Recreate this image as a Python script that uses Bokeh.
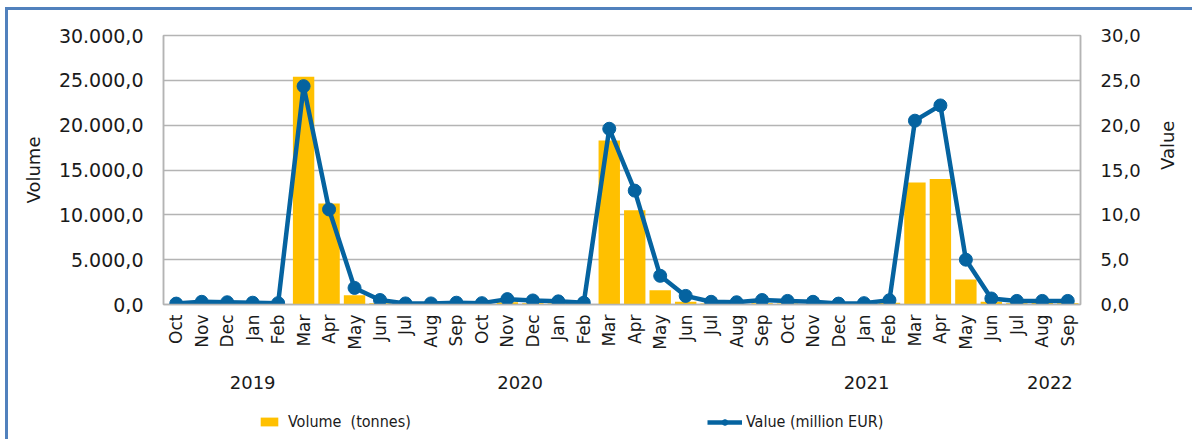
import math
from bokeh.plotting import figure
from bokeh.layouts import column
from bokeh.models import (Range1d, LinearAxis, FixedTicker, CustomJSTickFormatter,
                          Legend, LegendItem, ColumnDataSource)
from bokeh.embed import file_html
from bokeh.resources import INLINE

months = ["Oct", "Nov", "Dec", "Jan", "Feb", "Mar", "Apr", "May", "Jun", "Jul", "Aug", "Sep",
          "Oct", "Nov", "Dec", "Jan", "Feb", "Mar", "Apr", "May", "Jun", "Jul", "Aug", "Sep",
          "Oct", "Nov", "Dec", "Jan", "Feb", "Mar", "Apr", "May", "Jun", "Jul", "Aug", "Sep"]
volume_tonnes = [20, 30, 30, 20, 60, 25400, 11270, 1040, 150, 40, 40, 60,
                 60, 250, 150, 100, 60, 18300, 10500, 1600, 300, 100, 60, 150,
                 100, 60, 40, 60, 200, 13600, 14000, 2800, 300, 150, 200, 150]
value_meur = [0.1, 0.3, 0.25, 0.2, 0.15, 24.35, 10.6, 1.85, 0.5, 0.12, 0.12, 0.2,
              0.15, 0.6, 0.45, 0.35, 0.2, 19.6, 12.7, 3.2, 0.96, 0.3, 0.25, 0.5,
              0.4, 0.3, 0.1, 0.15, 0.48, 20.5, 22.2, 5.0, 0.67, 0.4, 0.4, 0.4]
years = ["2019", "2020", "2021", "2022"]
year_pos = [3.0, 13.5, 27.1, 34.3]

FONT = "'DejaVu Sans'"
COND = "'Liberation Sans Narrow', 'DejaVu Sans Condensed', 'DejaVu Sans'"
GRID = "#b4b4b4"
YELLOW = "#FFC000"
BLUE = "#0563A0"
TXT = "#1a1a1a"
W = 1184

x = list(range(len(months)))
src = ColumnDataSource(dict(x=x, vol=volume_tonnes, val=value_meur))

p = figure(width=W, height=395, output_backend="svg", toolbar_location=None,
           x_range=Range1d(-0.5, len(months) - 0.5), y_range=Range1d(0, 30000),
           min_border_left=155, min_border_right=112, min_border_top=25, min_border_bottom=101)
p.extra_y_ranges = {"val": Range1d(0, 30)}

p.outline_line_color = GRID
p.outline_line_width = 1.5
p.background_fill_color = "white"
p.border_fill_color = "white"
p.xgrid.grid_line_color = None
p.ygrid.grid_line_color = GRID
p.ygrid.grid_line_width = 1.5
p.ygrid.ticker = FixedTicker(ticks=[0, 5000, 10000, 15000, 20000, 25000, 30000])

bars = p.vbar(x="x", top="vol", width=0.84, source=src, color=YELLOW, line_color=None)
line = p.line(x="x", y="val", source=src, y_range_name="val", line_color=BLUE, line_width=4.5)
dots = p.scatter(x="x", y="val", source=src, y_range_name="val", size=13,
                 fill_color=BLUE, line_color=BLUE)

# left axis
ya = p.yaxis[0]
ya.ticker = FixedTicker(ticks=[0, 5000, 10000, 15000, 20000, 25000, 30000])
ya.formatter = CustomJSTickFormatter(code="""
return tick.toFixed(1).replace('.', ',').replace(/\\B(?=(\\d{3})+(?!\\d))/g, '.');
""")
ya.axis_label = "Volume"
ya.axis_label_text_font = FONT
ya.axis_label_text_font_style = "normal"
ya.axis_label_text_font_size = "18px"
ya.axis_label_text_color = TXT
ya.axis_label_standoff = 12
ya.major_label_text_font = FONT
ya.major_label_text_font_size = "19px"
ya.major_label_text_color = TXT
ya.axis_line_color = GRID
ya.axis_line_width = 1.5
ya.major_tick_line_color = None
ya.minor_tick_line_color = None
ya.major_tick_out = 0
ya.major_tick_in = 0
ya.major_label_standoff = 20

# right axis
ra = LinearAxis(y_range_name="val", ticker=FixedTicker(ticks=[0, 5, 10, 15, 20, 25, 30]))
ra.formatter = CustomJSTickFormatter(code="return tick.toFixed(1).replace('.', ',');")
ra.axis_label = "Value"
ra.axis_label_orientation = math.pi / 2
ra.axis_label_text_font = FONT
ra.axis_label_text_font_style = "normal"
ra.axis_label_text_font_size = "18px"
ra.axis_label_text_color = TXT
ra.axis_label_standoff = 24
ra.major_label_text_font = FONT
ra.major_label_text_font_size = "18px"
ra.major_label_text_color = TXT
ra.axis_line_color = GRID
ra.axis_line_width = 1.5
ra.major_tick_line_color = None
ra.minor_tick_line_color = None
ra.major_tick_out = 0
ra.major_tick_in = 0
ra.major_label_standoff = 20
p.add_layout(ra, "right")

# bottom axis (months)
xa = p.xaxis[0]
xa.ticker = FixedTicker(ticks=x)
xa.major_label_overrides = {i: m for i, m in enumerate(months)}
xa.major_label_orientation = math.pi / 2
xa.major_label_text_font = FONT
xa.major_label_text_font_size = "17px"
xa.major_label_text_color = TXT
xa.axis_line_color = GRID
xa.axis_line_width = 1.5
xa.major_tick_line_color = None
xa.minor_tick_line_color = None
xa.major_label_standoff = 4

# second bottom axis (years)
yax = LinearAxis(ticker=FixedTicker(ticks=year_pos),
                 major_label_overrides={pos: yr for pos, yr in zip(year_pos, years)})
yax.axis_line_color = None
yax.major_tick_line_color = None
yax.minor_tick_line_color = None
yax.major_label_text_font = FONT
yax.major_label_text_font_size = "18px"
yax.major_label_text_color = TXT
yax.major_label_standoff = 17
p.add_layout(yax, "below")

# legend strip (frame aligned with the chart frame by the column layout)
lg = figure(width=W, height=34, output_backend="svg", toolbar_location=None,
            x_range=Range1d(0, 1), y_range=Range1d(0, 1),
            min_border_left=0, min_border_right=0, min_border_top=0, min_border_bottom=0)
lg.axis.visible = False
lg.grid.grid_line_color = None
lg.outline_line_color = None
lg.border_fill_color = "white"
hidden = ColumnDataSource(dict(x=[-10], y=[-10]))
lb = lg.vbar(x="x", top="y", width=1, source=hidden, color=YELLOW, line_color=None)
ll = lg.line(x="x", y="y", source=hidden, line_color=BLUE, line_width=4.5)
ls = lg.scatter(x="x", y="y", source=hidden, size=11, fill_color=BLUE, line_color=BLUE)

common = dict(label_text_font=COND, label_text_font_size="16px", label_text_color=TXT,
              background_fill_alpha=0, border_line_color=None, padding=0, margin=0)
leg1 = Legend(items=[LegendItem(label="Volume  (tonnes)", renderers=[lb])],
              location=(95, 8), glyph_width=22, glyph_height=11, label_standoff=8, **common)
leg2 = Legend(items=[LegendItem(label="Value (million EUR)", renderers=[ll, ls])],
              location=(544, 8), glyph_width=35, glyph_height=14, label_standoff=4, **common)
lg.add_layout(leg1)
lg.add_layout(leg2)

layout = column(p, lg, spacing=0)
layout.styles = {"margin-left": "5px", "margin-top": "7px",
                 "border-left": "3px solid #5181BD", "border-top": "3px solid #5181BD"}

open("out.html", "w").write(file_html(layout, INLINE))
